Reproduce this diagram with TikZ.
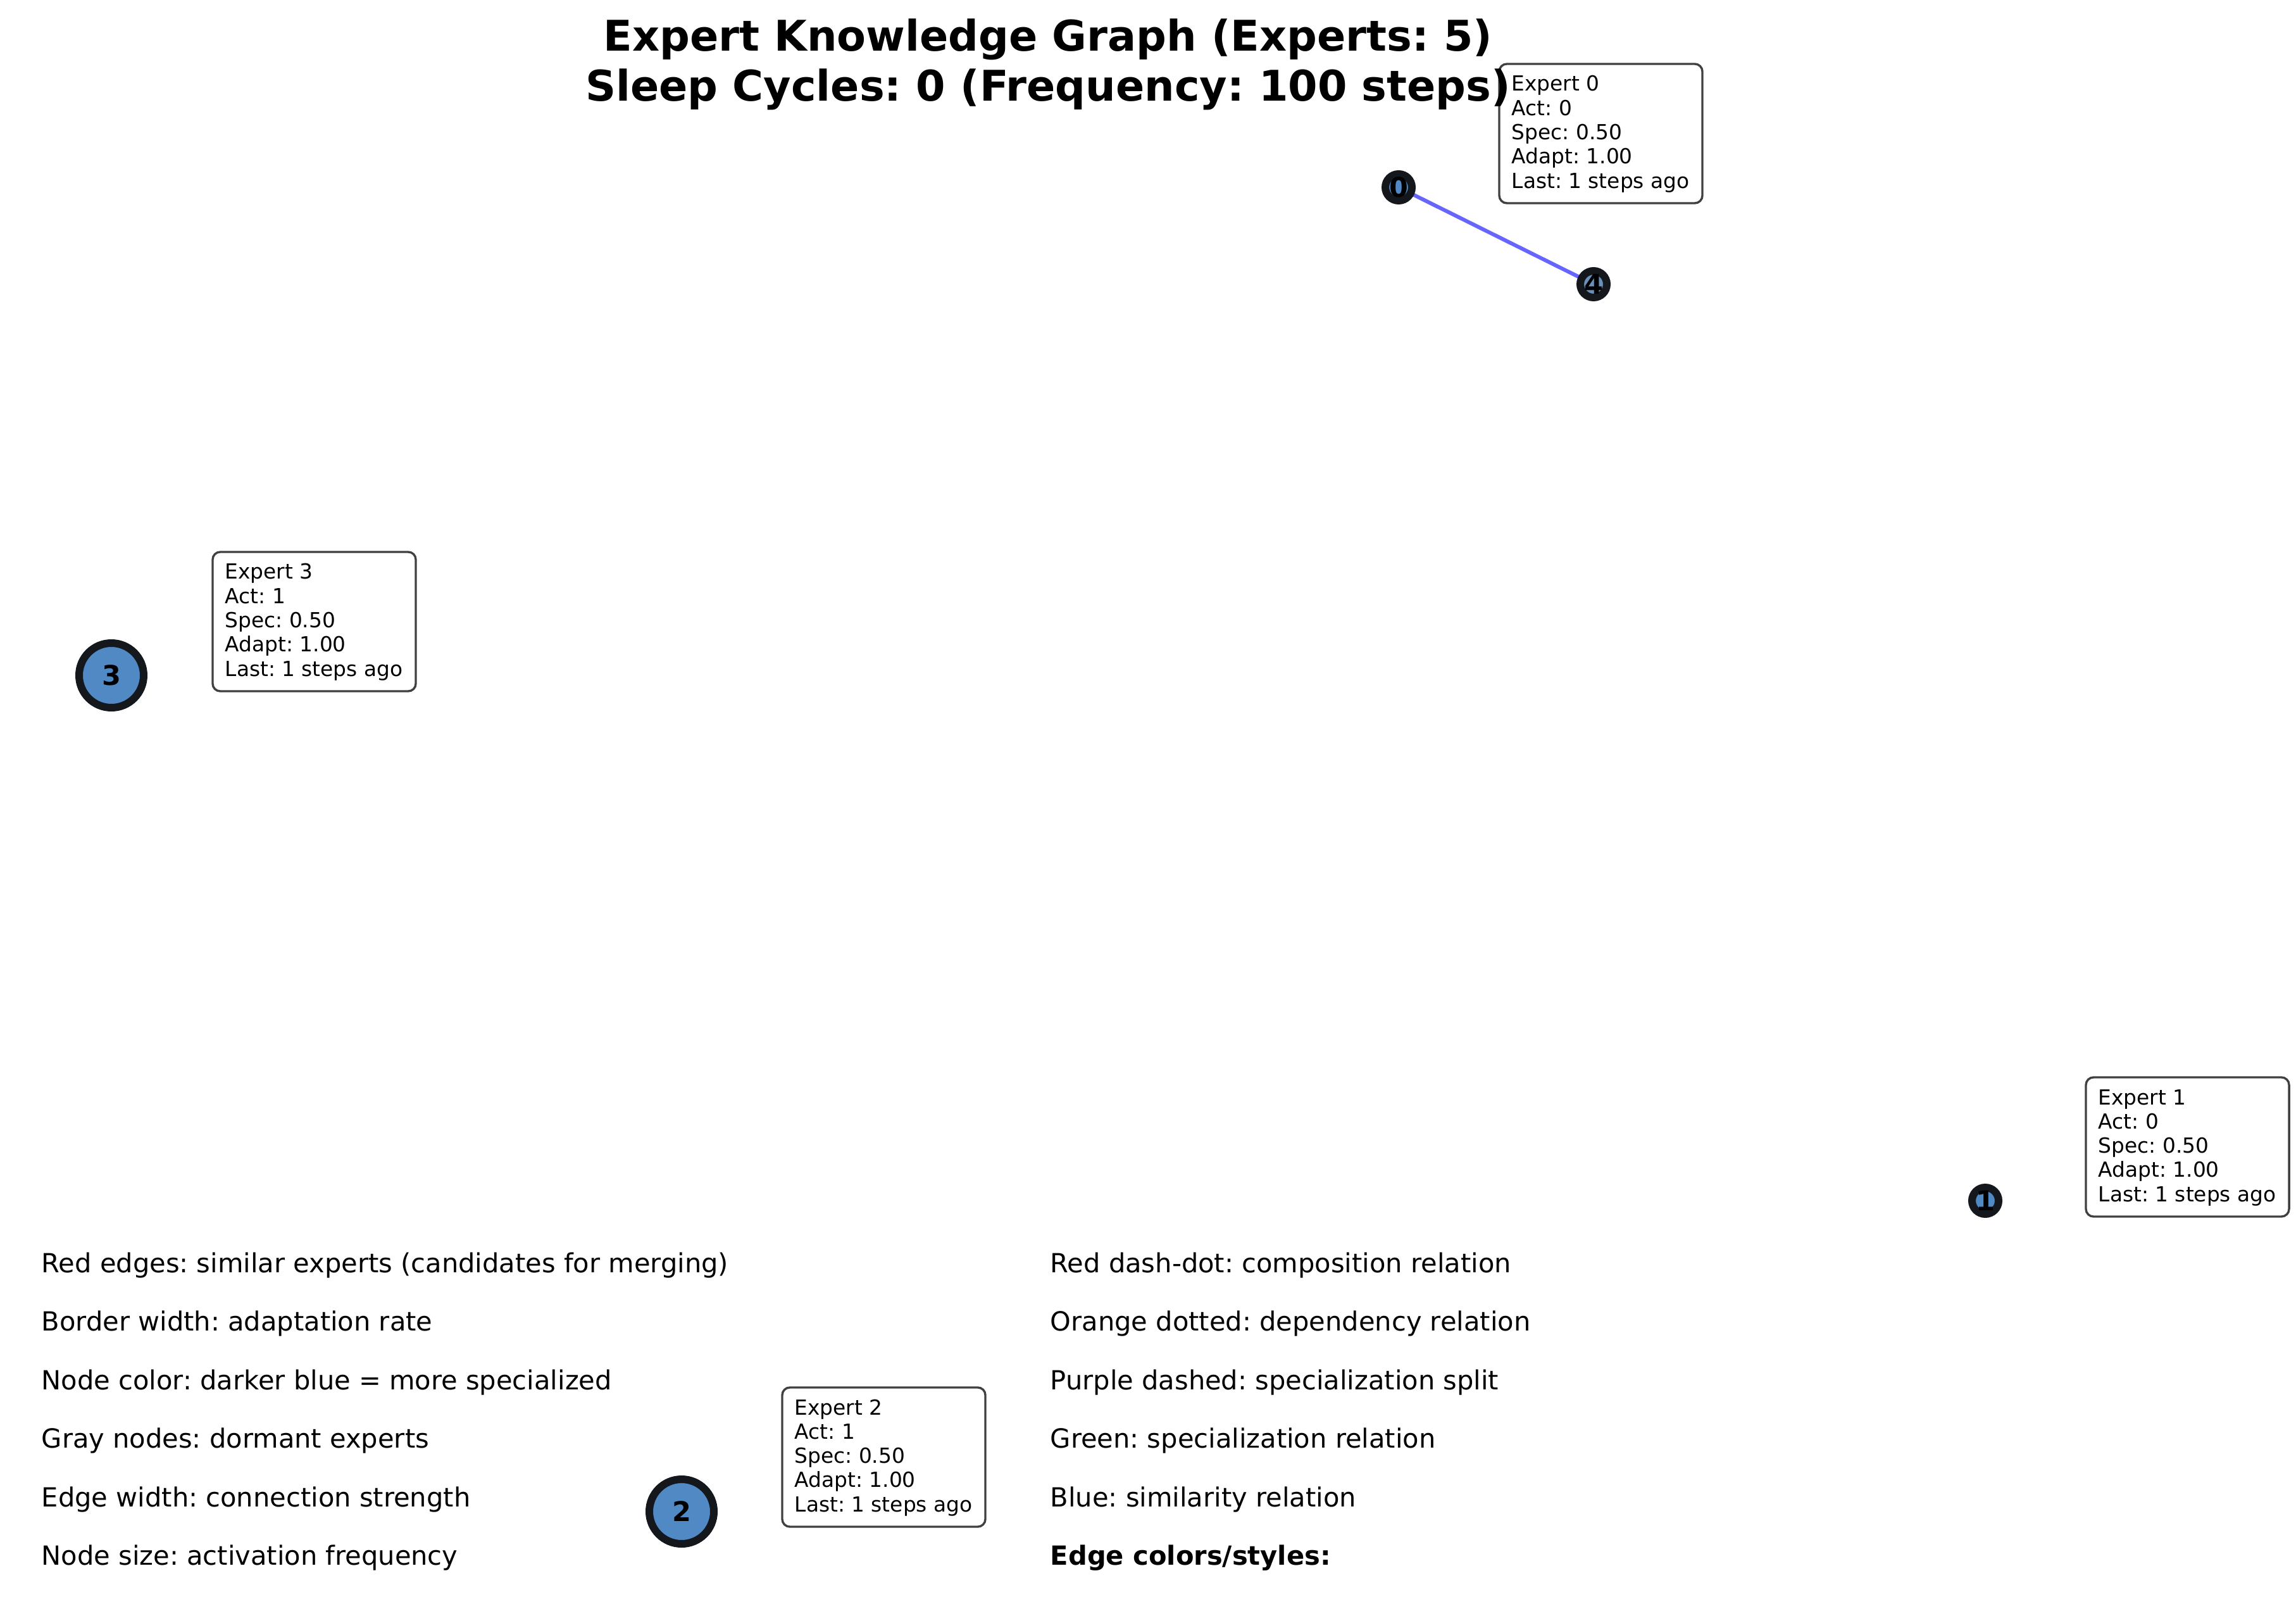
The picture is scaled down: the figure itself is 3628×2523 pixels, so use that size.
\documentclass[tikz,border=0pt]{standalone}
\usepackage{fontspec}
\setmainfont{DejaVu Sans}
\frenchspacing
\usetikzlibrary{backgrounds}
\definecolor{nodeblue}{HTML}{5189C4}
\definecolor{nodepale}{HTML}{6A90BA}
\definecolor{ringdark}{HTML}{14171B}
\definecolor{simblue}{HTML}{6666FF}
\definecolor{cardedge}{HTML}{404040}

% info card: #1 name, #2 left, #3 top, #4 expert id, #5 activations
\newcommand\expertcard[5]{%
  \node[card] (#1) at (#2,#3) {};
  \foreach \txt [count=\i from 0] in {Expert #4, Act: #5, Spec: 0.50, Adapt: 1.00, Last: 1 steps ago}
    \node[cardtext] (#1-\i) at ({#2+19},{#3+43+38.3*\i}) {\txt};
}

\begin{document}
\begin{tikzpicture}[x=0.25pt,y=-0.25pt,
  expert/.style={circle, draw=ringdark, line width=3pt, fill=nodeblue, inner sep=0pt, outer sep=0pt},
  bignode/.style={expert, minimum size=25.5pt},
  smallnode/.style={expert, minimum size=10.5pt},
  numlabel/.style={font=\fontsize{10.75pt}{12pt}\selectfont\bfseries, inner sep=0pt, text=black},
  card/.style={draw=cardedge, line width=0.85pt, fill=white, rounded corners=3pt, minimum width=80.25pt, minimum height=55pt, inner sep=0pt, outer sep=0pt, anchor=north west},
  cardtext/.style={font=\fontsize{8.2pt}{9.6pt}\selectfont, inner sep=0pt, anchor=base west},
  legend/.style={font=\fontsize{10.4pt}{12.5pt}\selectfont, inner sep=0pt, anchor=base west},
  titletext/.style={font=\fontsize{16.7pt}{20pt}\selectfont\bfseries, inner sep=0pt, anchor=base},
]
\useasboundingbox (0,0) rectangle (3628,2523);

% experts
\node[smallnode] (n0) at (2210,296) {};
\node[smallnode, fill=nodepale] (n4) at (2518,449) {};
\node[smallnode] (n1) at (3137,1897) {};
\node[bignode] (n3) at (176,1067) {};
\node[bignode] (n2) at (1077,2388) {};

\node[numlabel] (l0) at (n0) {0};
\node[numlabel] (l4) at (n4) {4};
\node[numlabel] (l1) at (n1) {1};
\node[numlabel] (l3) at (n3) {3};
\node[numlabel] (l2) at (n2) {2};

% similarity edge beneath the nodes
\begin{pgfonlayer}{background}
  \fill[white] (0,0) rectangle (3628,2523);
  \draw[simblue, line width=1.5pt] (n0.center) -- (n4.center);
\end{pgfonlayer}

% info cards
\expertcard{c0}{2369}{101}{0}{0}
\expertcard{c1}{3296}{1702}{1}{0}
\expertcard{c2}{1236}{2192}{2}{1}
\expertcard{c3}{336}{872}{3}{1}

% title
\node[titletext] (t1) at (1656,81) {Expert Knowledge Graph (Experts: 5)};
\node[titletext] (t2) at (1656,160) {Sleep Cycles: 0 (Frequency: 100 steps)};

% legend, left column
\node[legend] (a1) at (65,2010) {Red edges: similar experts (candidates for merging)};
\node[legend] (a2) at (65,2102.5) {Border width: adaptation rate};
\node[legend] (a3) at (65,2195) {Node color: darker blue = more specialized};
\node[legend] (a4) at (65,2287.5) {Gray nodes: dormant experts};
\node[legend] (a5) at (65,2380) {Edge width: connection strength};
\node[legend] (a6) at (65,2472.5) {Node size: activation frequency};

% legend, right column
\node[legend] (b1) at (1659,2010) {Red dash-dot: composition relation};
\node[legend] (b2) at (1659,2102.5) {Orange dotted: dependency relation};
\node[legend] (b3) at (1659,2195) {Purple dashed: specialization split};
\node[legend] (b4) at (1659,2287.5) {Green: specialization relation};
\node[legend] (b5) at (1659,2380) {Blue: similarity relation};
\node[legend, font=\fontsize{10.4pt}{12.5pt}\selectfont\bfseries] (b6) at (1659,2472.5) {Edge colors/styles:};
\end{tikzpicture}
\end{document}
